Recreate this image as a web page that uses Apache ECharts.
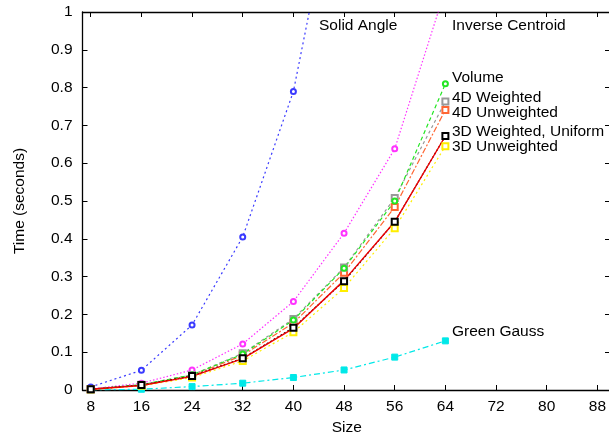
<!DOCTYPE html>
<html>
<head>
<meta charset="utf-8">
<script src="https://cdn.jsdelivr.net/npm/echarts@6/dist/echarts.min.js"></script>
<style>
html,body{margin:0;padding:0;background:#fff;}
#chart{width:609px;height:440px;}
</style>
</head>
<body>
<div id="chart"></div>
<script>
const sizes = [8, 16, 24, 32, 40, 48, 56, 64];
const xTicks = [8, 16, 24, 32, 40, 48, 56, 64, 72, 80, 88];

const solidAngle      = [0.008, 0.052, 0.172, 0.405, 0.790, 1.460];
const inverseCentroid = [0.003, 0.018, 0.053, 0.122, 0.234, 0.415, 0.638, 1.060];
const volume          = [0.002, 0.014, 0.040, 0.095, 0.185, 0.322, 0.500, 0.810];
const weighted4D      = [0.002, 0.014, 0.040, 0.097, 0.188, 0.324, 0.508, 0.763];
const unweighted4D    = [0.002, 0.013, 0.038, 0.092, 0.177, 0.310, 0.484, 0.741];
const weighted3D      = [0.002, 0.012, 0.036, 0.083, 0.163, 0.290, 0.445, 0.672];
const uniform3D       = [0.002, 0.013, 0.037, 0.084, 0.165, 0.288, 0.445, 0.672];
const unweighted3D    = [0.001, 0.011, 0.033, 0.077, 0.153, 0.270, 0.428, 0.645];
const greenGauss      = [0.000, 0.002, 0.009, 0.018, 0.033, 0.053, 0.087, 0.130];

const labels = [
  {text: 'Solid Angle', x: 319, y: 27},
  {text: 'Inverse Centroid', x: 452, y: 27},
  {text: 'Volume', x: 452, y: 79},
  {text: '4D Weighted', x: 452, y: 99},
  {text: '4D Unweighted', x: 452, y: 114},
  {text: '3D Weighted, Uniform', x: 452, y: 133},
  {text: '3D Unweighted', x: 452, y: 148},
  {text: 'Green Gauss', x: 452, y: 333}
];

const FONT = 'Liberation Sans, Arial, Helvetica, sans-serif';
const FS = 15.5;

function pts(vals) { return vals.map((v, i) => [sizes[i], v]); }

function mk(name, vals, color, dash, symbol, symSize, width) {
  return {
    name: name, type: 'line', data: pts(vals),
    symbol: symbol, symbolSize: symSize, showSymbol: symbol !== 'none',
    lineStyle: {color: color, width: width || 1.2, type: dash},
    itemStyle: {color: color, borderColor: color, borderWidth: 1},
    emphasis: {disabled: true}, z: 3
  };
}

const chart = echarts.init(document.getElementById('chart'), null, {renderer: 'canvas'});
const tickStyle = {show: true, inside: true, length: 5, lineStyle: {color: '#000', width: 1}};
chart.setOption({
  animation: false,
  backgroundColor: '#fff',
  grid: {left: 82.5, top: 12, right: -2, bottom: 50, containLabel: false, outerBoundsMode: 'none'},
  xAxis: [{
    type: 'value', min: 6.7, max: 90.15, position: 'bottom',
    name: 'Size', nameLocation: 'middle', nameGap: 30,
    nameTextStyle: {fontFamily: FONT, fontSize: FS, color: '#000'},
    axisLine: {show: true, onZero: false, lineStyle: {color: '#000', width: 1.3}},
    axisTick: Object.assign({customValues: xTicks}, tickStyle),
    axisLabel: {customValues: xTicks, fontFamily: FONT, fontSize: FS, color: '#000', margin: 9},
    splitLine: {show: false}
  }, {
    type: 'value', min: 6.7, max: 90.15, position: 'top',
    axisLine: {show: true, onZero: false, lineStyle: {color: '#000', width: 1.3}},
    axisTick: Object.assign({customValues: xTicks}, tickStyle),
    axisLabel: {show: false},
    splitLine: {show: false}
  }],
  yAxis: [{
    type: 'value', min: 0, max: 1, interval: 0.1, position: 'left',
    name: 'Time (seconds)', nameLocation: 'middle', nameGap: 55,
    nameTextStyle: {fontFamily: FONT, fontSize: FS, color: '#000'},
    axisLine: {show: true, onZero: false, lineStyle: {color: '#000', width: 1.3}},
    axisTick: tickStyle,
    axisLabel: {fontFamily: FONT, fontSize: FS, color: '#000', margin: 10},
    splitLine: {show: false}
  }, {
    type: 'value', min: 0, max: 1, interval: 0.1, position: 'right',
    axisLine: {show: true, onZero: false, lineStyle: {color: '#000', width: 1.3}},
    axisTick: {show: true, inside: true, length: 6, lineStyle: {color: '#000', width: 1}},
    axisLabel: {show: false},
    splitLine: {show: false}
  }],
  series: [
    mk('Green Gauss', greenGauss, '#00e8e8', [6, 3, 2, 3], 'rect', 6),
    mk('Solid Angle', solidAngle, '#3a3aff', [2, 3], 'emptyCircle', 5),
    mk('Inverse Centroid', inverseCentroid, '#ff33ff', [1.5, 2], 'emptyCircle', 5),
    mk('3D Unweighted', unweighted3D, '#ffee00', [2, 3], 'emptyRect', 6),
    mk('4D Unweighted', unweighted4D, '#ff6633', [6, 2, 2, 2], 'emptyRect', 6),
    mk('4D Weighted', weighted4D, '#999999', [3, 3], 'emptyRect', 6),
    mk('Volume', volume, '#22e622', [4, 3], 'emptyCircle', 5),
    mk('Uniform', uniform3D, '#000000', [2, 2], 'emptyRect', 6),
    mk('3D Weighted', weighted3D, '#ee0000', 'solid', 'none', 0, 1.4)
  ],
  graphic: labels.map(l => ({
    type: 'text', left: l.x, top: l.y - 9,
    style: {text: l.text, fontFamily: FONT, fontSize: FS, fill: '#000'}
  }))
});
</script>
</body>
</html>
